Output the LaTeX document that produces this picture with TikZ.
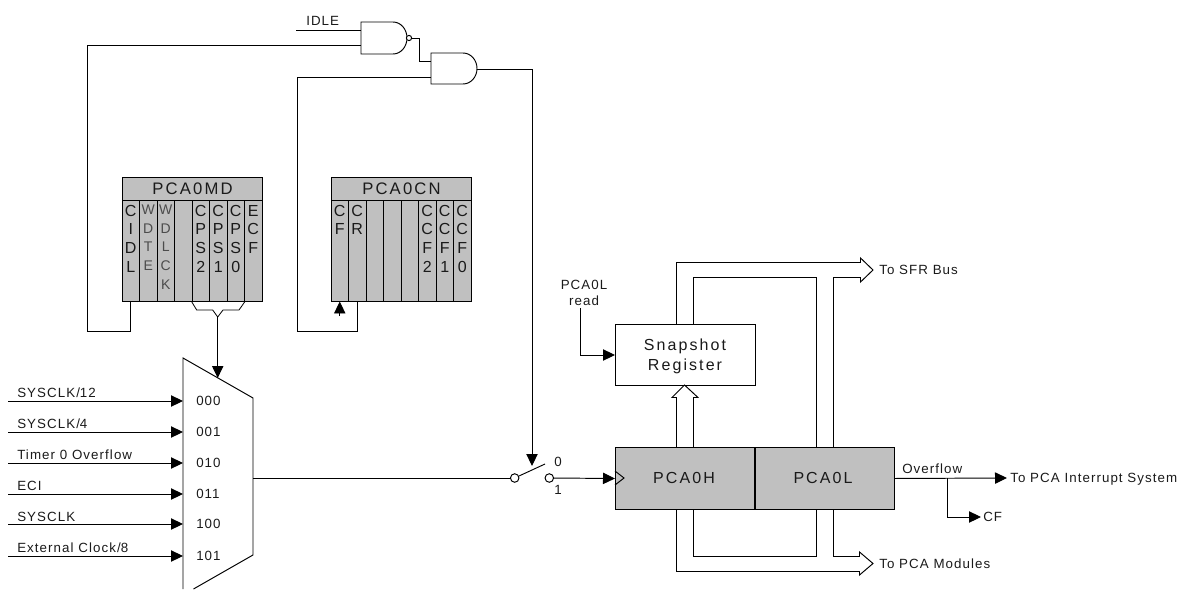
\documentclass[tikz,border=0pt]{standalone}
\usepackage{fontspec}
\setmainfont[LetterSpace=8]{Liberation Sans}
\newfontfamily\bigfont[LetterSpace=13]{Liberation Sans}
\newfontfamily\plainfont{Liberation Sans}
\usetikzlibrary{arrows.meta}
\definecolor{regfill}{HTML}{C0C0C0}
\definecolor{inktext}{HTML}{1A1A1A}
\tikzset{
  wire/.style={draw=black,line width=.72pt,line join=miter},
  arrowwire/.style={wire,-{Triangle[length=9pt,width=8.5pt]}},
  busline/.style={draw=black,line width=.72pt},
  regbox/.style={draw=black,fill=regfill,line width=.72pt,inner sep=0pt},
  whitebox/.style={draw=black,fill=white,line width=.72pt,inner sep=0pt},
  bitcol/.style={regbox,minimum width=13.125pt,minimum height=75.4pt,anchor=north},
  bittxt/.style={inner sep=0pt,anchor=north,align=center,text=inktext,font=\plainfont\fontsize{12}{13.9}\selectfont},
  thinbit/.style={bittxt,text=black!70,font=\plainfont\fontsize{10.5}{13.9}\selectfont},
  hdrbox/.style={regbox,minimum width=105pt,minimum height=17.25pt,anchor=north west,font=\bigfont\fontsize{12.5}{14}\selectfont,text=inktext},
  lab/.style={inner sep=0pt,anchor=base west,text=inktext,font=\fontsize{10}{12}\selectfont},
  clab/.style={inner sep=0pt,anchor=base,text=inktext,font=\fontsize{10}{12}\selectfont},
  biglab/.style={inner sep=0pt,anchor=base,text=inktext,font=\bigfont\fontsize{12}{14}\selectfont},
  pin/.style={circle,draw=black,fill=white,line width=.72pt,inner sep=0pt,minimum size=6.4pt},
}
\newcommand{\mkbit}[4]{%
  \node[bitcol] (#1) at (#2,200) {};
  \node[#4] (#1t) at (#2,205) {#3};
}
\begin{document}
\begin{tikzpicture}[x=.75pt,y=-.75pt]
\useasboundingbox (0,0) rectangle (1181,589);
% registers
\node[hdrbox] (mdh) at (122,177) {PCA0MD};
\mkbit{mda}{130.75}{C\\I\\D\\L}{bittxt}
\mkbit{mdb}{148.25}{W\\D\\T\\E}{thinbit}
\mkbit{mdc}{165.75}{W\\D\\L\\C\\K}{thinbit}
\mkbit{mdd}{183.25}{}{bittxt}
\mkbit{mde}{200.75}{C\\P\\S\\2}{bittxt}
\mkbit{mdf}{218.25}{C\\P\\S\\1}{bittxt}
\mkbit{mdg}{235.75}{C\\P\\S\\0}{bittxt}
\mkbit{mdi}{253.25}{E\\C\\F}{bittxt}
\node[hdrbox] (cnh) at (331,177) {PCA0CN};
\mkbit{cna}{339.75}{C\\F}{bittxt}
\mkbit{cnb}{357.25}{C\\R}{bittxt}
\mkbit{cnc}{374.75}{}{bittxt}
\mkbit{cnd}{392.25}{}{bittxt}
\mkbit{cne}{409.75}{}{bittxt}
\mkbit{cnf}{427.25}{C\\C\\F\\2}{bittxt}
\mkbit{cng}{444.75}{C\\C\\F\\1}{bittxt}
\mkbit{cni}{462.25}{C\\C\\F\\0}{bittxt}
% gates
\coordinate (nandT) at (361,22);
\coordinate (nandB) at (361,54);
\draw[wire] (nandT) -- ++(32,0) arc[start angle=-90,end angle=90,x radius=14,y radius=16] -- (nandB) -- cycle;
\node[pin,minimum size=3.9pt] (bubble) at (409,38) {};
\coordinate (andT) at (431,53);
\coordinate (andB) at (431,84);
\draw[wire] (andT) -- ++(32,0) arc[start angle=-90,end angle=90,x radius=14,y radius=15.5] -- (andB) -- cycle;
\coordinate (idleS) at (296,30);
\coordinate (nandI) at (361,30);
\coordinate (nandJ) at (361,45);
\coordinate (andI) at (431,61);
\coordinate (andJ) at (431,77);
\coordinate (andO) at (477,69);
\coordinate (leftA) at (87,331);
\coordinate (leftB) at (297,331);
\coordinate (turnB) at (419,38);
\node[lab] (idle) at (306,26) {IDLE};
\draw[wire] (idleS) -- (nandI);
\draw[wire] (mda.south) |- (leftA) |- (nandJ);
\draw[wire] (cnb.south) |- (leftB) |- (andJ);
\draw[wire] (bubble.east) -- (turnB) |- (andI);
\coordinate (cfS) at (339.75,316);
\draw[arrowwire] (cfS) -- (cna.south);
% brace
\coordinate (brM) at (217.7,317);
\coordinate (brL) at (196.7,310);
\coordinate (brLb) at (212.7,310);
\coordinate (brR) at (239,310);
\coordinate (brRb) at (223,310);
\draw[line width=.6pt] (mde.south west) -- (brL) -- (brLb) -- (brM) -- (brRb) -- (brR) -- (mdg.south east);
% mux
\coordinate (muxA) at (183,589);
\coordinate (muxB) at (183,358);
\coordinate (muxC) at (253,398);
\coordinate (muxD) at (253,555);
\coordinate (muxE) at (193.5,589);
\draw[wire] (muxA) -- (muxB) -- (muxC) -- (muxD) -- (muxE);
\coordinate (muxSel) at (217.7,378);
\draw[arrowwire] (brM) -- (muxSel);
\foreach \nm/\y/\bl/\txt/\code in {a/401/397/SYSCLK\slash 12/000,b/432/428/SYSCLK\slash 4/001,c/463/459/Timer 0 Overflow/010,d/494/490/ECI/011,e/524/521/SYSCLK/100,f/556/552/External Clock\slash 8/101}{
  \coordinate (in\nm) at (8,\y);
  \coordinate (mi\nm) at (183,\y);
  \node[lab] (inl\nm) at (17,\bl) {\txt};
  \draw[arrowwire] (in\nm) -- (mi\nm);
  \node[lab] (code\nm) at (196,\y+4.5) {\code};
}
% switch
\coordinate (muxO) at (253,478);
\node[pin] (swL) at (514.7,478) {};
\node[pin] (swR) at (549.3,478) {};
\coordinate (armA) at (519,476);
\coordinate (armB) at (545,464);
\draw[line width=.7pt] (armA) -- (armB);
\draw[wire] (muxO) -- (swL);
\node[clab] (sw0) at (558,466.5) {0};
\node[clab] (sw1) at (558,494) {1};
% counters
\node[regbox,minimum width=104.6pt,minimum height=46.5pt,anchor=north west] (pcah) at (615,447) {};
\node[regbox,minimum width=104.1pt,minimum height=46.5pt,anchor=north west] (pcal) at (755,447) {};
\node[biglab] (pcaht) at (684,483) {PCA0H};
\node[biglab] (pcalt) at (823,483) {PCA0L};
\coordinate (clkA) at (615,471);
\coordinate (clkB) at (624,478);
\coordinate (clkC) at (615,485);
\draw[wire] (clkA) -- (clkB) -- (clkC);
\draw[arrowwire] (swR) -- (pcah.west);
\coordinate (andTurn) at (532,69);
\coordinate (swCtl) at (532,466);
\draw[wire] (andO) -- (andTurn);
\draw[arrowwire] (andTurn) -- (swCtl);
% snapshot
\node[whitebox,minimum width=105pt,minimum height=45.75pt,anchor=north west] (snap) at (615,324) {};
\node[biglab] (snapa) at (685,350) {Snapshot};
\node[biglab] (snapb) at (685,370) {Register};
\node[clab] (rda) at (584,289) {PCA0L};
\node[clab] (rdb) at (584,305) {read};
\coordinate (rdS) at (580,308);
\coordinate (rdT) at (580,355);
\draw[wire] (rdS) -- (rdT);
\draw[arrowwire] (rdT) -- (snap.west |- rdT);
% bus up to snapshot
\coordinate (upA) at (676.5,447);
\coordinate (upB) at (676.5,397.5);
\coordinate (upC) at (672,397.5);
\coordinate (upD) at (684.5,385);
\coordinate (upE) at (698,397.5);
\coordinate (upF) at (693.5,397.5);
\coordinate (upG) at (693.5,447);
\draw[busline] (upA) -- (upB) -- (upC) -- (upD) -- (upE) -- (upF) -- (upG);
% to SFR bus
\coordinate (sfA) at (676.5,324);
\coordinate (sfB) at (676.5,262.5);
\coordinate (sfC) at (860.5,262.5);
\coordinate (sfD) at (860.5,258);
\coordinate (sfE) at (873,270);
\coordinate (sfF) at (860.5,282);
\coordinate (sfG) at (860.5,277.5);
\coordinate (sfH) at (833.5,277.5);
\coordinate (sfI) at (833.5,447);
\draw[busline] (sfA) -- (sfB) -- (sfC) -- (sfD) -- (sfE) -- (sfF) -- (sfG) -- (sfH) -- (sfI);
\coordinate (siA) at (693,324);
\coordinate (siB) at (693,277);
\coordinate (siC) at (816,277);
\coordinate (siD) at (816,447);
\draw[busline] (siA) -- (siB) -- (siC) -- (siD);
\node[lab] (sfr) at (879,274.5) {To SFR Bus};
% to PCA modules
\coordinate (moA) at (676.5,509);
\coordinate (moB) at (676.5,571.5);
\coordinate (moC) at (859.5,571.5);
\coordinate (moD) at (859.5,575);
\coordinate (moE) at (873,563.5);
\coordinate (moF) at (859.5,552);
\coordinate (moG) at (859.5,556.5);
\coordinate (moH) at (833.5,556.5);
\coordinate (moI) at (833.5,509);
\draw[busline] (moA) -- (moB) -- (moC) -- (moD) -- (moE) -- (moF) -- (moG) -- (moH) -- (moI);
\coordinate (mjA) at (693,509);
\coordinate (mjB) at (693,556);
\coordinate (mjC) at (816,556);
\coordinate (mjD) at (816,509);
\draw[busline] (mjA) -- (mjB) -- (mjC) -- (mjD);
\node[lab] (mods) at (879,568) {To PCA Modules};
% overflow
\node[lab] (ovf) at (902,473.5) {Overflow};
\coordinate (ovT) at (1007,478);
\coordinate (ovJ) at (947,478);
\coordinate (ovK) at (947,517);
\coordinate (cfT) at (981,517);
\draw[arrowwire] (pcal.east) -- (ovT);
\draw[wire] (ovJ) -- (ovK);
\draw[arrowwire] (ovK) -- (cfT);
\node[lab] (intr) at (1010,482.5) {To PCA Interrupt System};
\node[lab] (cf) at (983,521.5) {CF};
\end{tikzpicture}
\end{document}
